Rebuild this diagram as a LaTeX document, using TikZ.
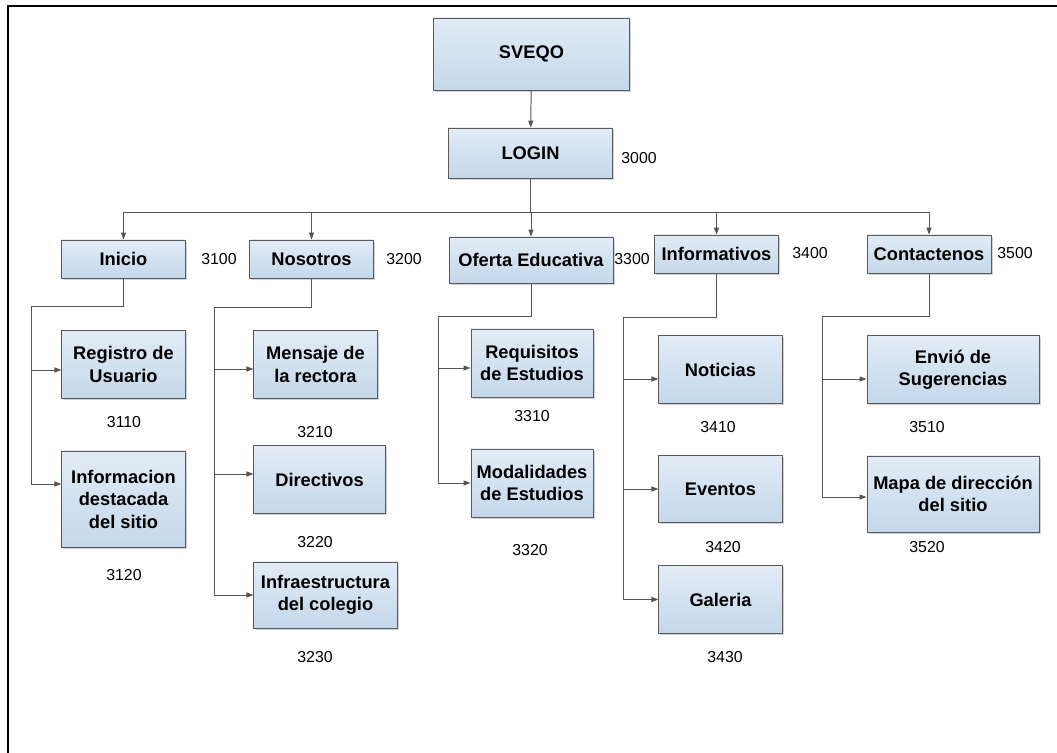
\documentclass[tikz,border=0pt]{standalone}
\usepackage{fontspec}
\setmainfont{Liberation Sans}
\usetikzlibrary{arrows.meta,calc,shadows}
\definecolor{boxtop}{HTML}{E2ECF6}
\definecolor{boxbot}{HTML}{C4D7EA}
\definecolor{boxline}{HTML}{5A5A5A}
\definecolor{linecol}{HTML}{555555}

\begin{document}
\begin{tikzpicture}[x=0.025cm,y=-0.025cm,
  box/.style={draw=boxline,line width=0.6pt,top color=boxtop,bottom color=boxbot,
    minimum width=3.08cm,minimum height=1.68cm,inner sep=1pt,align=center,
    font=\bfseries\fontsize{13}{16}\selectfont,
    drop shadow={shadow xshift=0.04cm,shadow yshift=-0.04cm,fill=black!35,opacity=0.5}},
  num/.style={font=\fontsize{11.3}{13}\selectfont},
  wire/.style={draw=linecol,line width=0.7pt},
  arr/.style={wire,-{Triangle[length=5pt,width=3.6pt]}}]
\useasboundingbox (0,0) rectangle (1057,753);
\draw[line width=1.2pt] (8,753) -- (8,6) -- (1057,6);

% top
\node[box,minimum width=4.88cm,minimum height=1.8cm] (sveqo) at (531.5,54) {SVEQO};
\node[box,minimum width=4.08cm,minimum height=1.25cm] (login) at (530.5,153) {LOGIN};
\node[num] (n3000) at (639,158) {3000};

% first level
\node[box,minimum height=0.95cm] (inicio) at (123.5,259) {Inicio};
\node[box,minimum height=0.95cm] (nosotros) at (311.5,259) {Nosotros};
\node[box,minimum width=4.1cm,minimum height=1.15cm] (oferta) at (531,260) {Oferta Educativa};
\node[box,minimum height=0.95cm] (informativos) at (716.5,254) {Informativos};
\node[box,minimum width=3.1cm,minimum height=0.95cm] (contactenos) at (929,254) {Contactenos};
\node[num] (n3100) at (219,259) {3100};
\node[num] (n3200) at (404,259) {3200};
\node[num] (n3300) at (632,259) {3300};
\node[num] (n3400) at (810,253) {3400};
\node[num] (n3500) at (1015,253) {3500};

% Inicio
\node[box] (registro) at (123.5,364.5) {Registro de\\Usuario};
\node[box,minimum height=2.4cm] (destacada) at (123.5,499) {Informacion\\destacada\\del sitio};
\node[num] (n3110) at (124,422) {3110};
\node[num] (n3120) at (124,575) {3120};

% Nosotros
\node[box] (mensaje) at (315.5,364.5) {Mensaje de\\la rectora};
\node[box,minimum width=3.28cm] (directivos) at (319.5,479.5) {Directivos};
\node[box,minimum width=3.58cm,minimum height=1.65cm] (infraestructura) at (325.5,595) {Infraestructura\\del colegio};
\node[num] (n3210) at (315,432) {3210};
\node[num] (n3220) at (315,542) {3220};
\node[num] (n3230) at (315,657) {3230};

% Oferta Educativa
\node[box,minimum width=3.05cm,minimum height=1.7cm] (requisitos) at (532,363) {Requisitos\\de Estudios};
\node[box,minimum width=3.05cm,minimum height=1.7cm] (modalidades) at (532,483) {Modalidades\\de Estudios};
\node[num] (n3310) at (532,416) {3310};
\node[num] (n3320) at (530,550) {3320};

% Informativos
\node[box] (noticias) at (720.5,369.5) {Noticias};
\node[box] (eventos) at (720.5,489) {Eventos};
\node[box] (galeria) at (720.5,599.5) {Galeria};
\node[num] (n3410) at (718,427) {3410};
\node[num] (n3420) at (723,547) {3420};
\node[num] (n3430) at (725,657) {3430};

% Contactenos
\node[box,minimum width=4.3cm] (envio) at (953,369.5) {Envió de\\Sugerencias};
\node[box,minimum width=4.3cm,minimum height=1.9cm] (mapa) at (953,494) {Mapa de dirección\\del sitio};
\node[num] (n3510) at (927,427) {3510};
\node[num] (n3520) at (927,547) {3520};

% connectors
\draw[arr] (sveqo) -- (login);
\coordinate (bus) at (login.south |- 0,212);
\foreach \b in {inicio,nosotros,oferta,informativos,contactenos}
  \draw[arr] (login.south) -- (bus) -| (\b.north);

\coordinate (t1) at (31,306);
\coordinate (t2) at (214,307);
\coordinate (t3) at (438,316);
\coordinate (t4) at (623,317);
\coordinate (t5) at (822,316);
\draw[wire] (inicio.south) |- (t1);
\draw[wire] (nosotros.south) |- (t2);
\draw[wire] (oferta.south) |- (t3);
\draw[wire] (informativos.south) |- (t4);
\draw[wire] (contactenos.south) |- (t5);
\foreach \b/\d in {registro/5.5,destacada/-15}
  \draw[arr] (t1) |- ($(\b.west)+(0,\d)$);
\foreach \b/\d in {mensaje/4.5,directivos/-5.5,infraestructura/0}
  \draw[arr] (t2) |- ($(\b.west)+(0,\d)$);
\foreach \b/\d in {requisitos/5,modalidades/0}
  \draw[arr] (t3) |- ($(\b.west)+(0,\d)$);
\foreach \b/\d in {noticias/9.5,eventos/0,galeria/0}
  \draw[arr] (t4) |- ($(\b.west)+(0,\d)$);
\foreach \b/\d in {envio/9.5,mapa/3}
  \draw[arr] (t5) |- ($(\b.west)+(0,\d)$);
\end{tikzpicture}
\end{document}
